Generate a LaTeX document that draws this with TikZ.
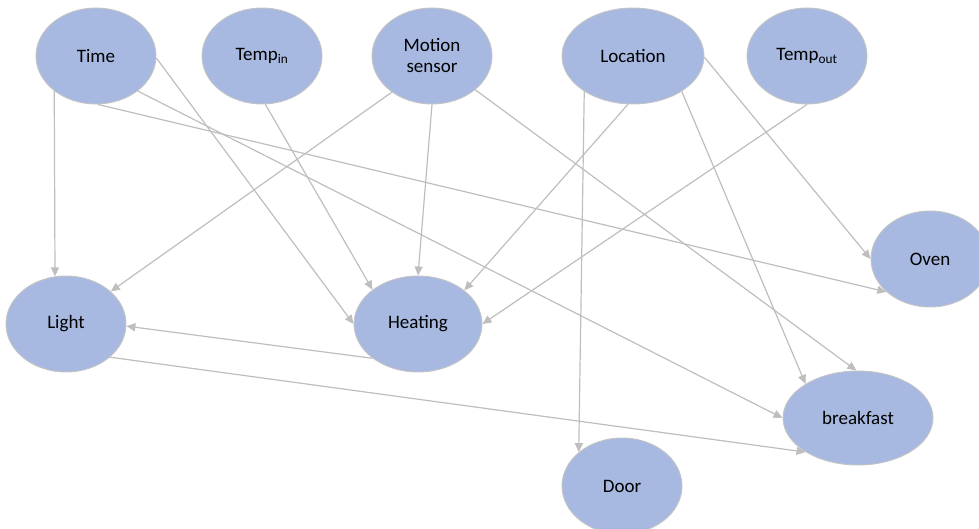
\documentclass[tikz,border=0pt]{standalone}
\usepackage{fontspec}
\setmainfont{Carlito}
\usetikzlibrary{shapes.geometric,arrows.meta}
\definecolor{nodefill}{RGB}{167,185,224}
\definecolor{nodeline}{RGB}{196,196,196}
\definecolor{edgecol}{RGB}{190,190,190}
\tikzset{
  var/.style={ellipse, fill=nodefill, draw=nodeline, line width=0.9pt,
    inner sep=0pt, minimum height=96pt, font=\fontsize{19}{22}\selectfont,
    align=center, text=black},
  link/.style={draw=edgecol, line width=1.2pt,
    -{Triangle[length=9pt,width=8pt]}}
}
\newcommand{\lowidx}[1]{\textsubscript{#1}}
\begin{document}
\begin{tikzpicture}[x=1pt,y=1pt]
  \useasboundingbox (0,0) rectangle (979,528);
  \begin{scope}
    \clip (0,0) rectangle (979,528);
    % variables
    \node[var, minimum width=120pt] (time)    at (96,472)  {Time};
    \node[var, minimum width=120pt] (tempin)  at (262,472) {Temp\lowidx{in}};
    \node[var, minimum width=120pt] (motion)  at (432,472) {Motion\\[-1pt]sensor};
    \node[var, minimum width=142pt] (loc)     at (633,472) {Location};
    \node[var, minimum width=120pt] (tempout) at (807,472) {Temp\lowidx{out}};
    \node[var, minimum width=118pt] (oven)    at (930,269) {Oven};
    \node[var, minimum width=120pt] (light)   at (66,204)  {Light};
    \node[var, minimum width=128pt] (heat)    at (418,204) {Heating};
    \node[var, minimum width=150pt, minimum height=94pt] (bf) at (858,110) {breakfast};
    \node[var, minimum width=120pt] (door)    at (622,42)  {Door};

    % dependencies
    \draw[link] (time.-140)   -- (light.103);
    \draw[link] (time.-2)     -- (heat.180);
    \draw[link] (time.-40.6)  -- (bf.180);
    \draw[link] (time.-88)    -- (oven.217.5);
    \draw[link] (tempin.-86)  -- (heat.143.5);
    \draw[link] (motion.-138) -- (light.36.5);
    \draw[link] (motion.-90)  -- (heat.90);
    \draw[link] (motion.-38)  -- (bf.92);
    \draw[link] (loc.-144)    -- (door.142);
    \draw[link] (loc.-96)     -- (heat.36);
    \draw[link] (loc.-36)     -- (bf.147.5);
    \draw[link] (loc.-1)      -- (oven.180);
    \draw[link] (tempout.-90) -- (heat.0);
    \draw[link] (heat.-143.5) -- (light.-2);
    \draw[link] (light.-37.7) -- (bf.-147.5);
  \end{scope}
\end{tikzpicture}
\end{document}
